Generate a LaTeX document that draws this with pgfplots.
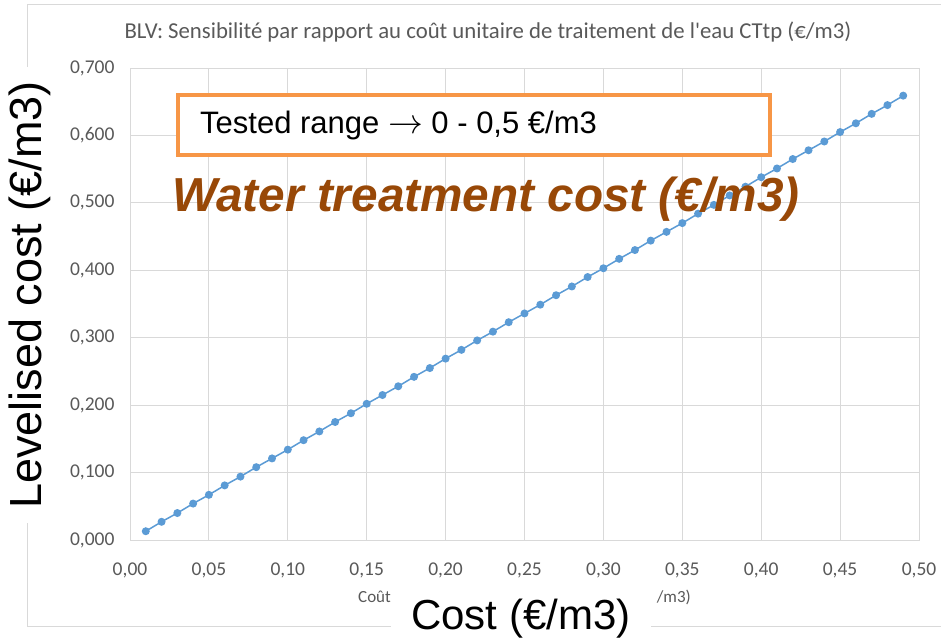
\documentclass[border=0pt]{standalone}
\usepackage{fontspec}
\setmainfont{Liberation Sans}
\newfontfamily\carlito{Carlito}
\usepackage{graphicx}
\usepackage{pgfplots}
\pgfplotsset{compat=1.18}
\definecolor{excelblue}{HTML}{5B9BD5}
\definecolor{gridgray}{HTML}{D9D9D9}
\definecolor{tickgray}{HTML}{595959}
\definecolor{boxorange}{HTML}{F79646}
\definecolor{brown}{HTML}{984807}
\pgfplotstableread{
x y
0.01 0.013
0.02 0.027
0.03 0.040
0.04 0.054
0.05 0.067
0.06 0.081
0.07 0.094
0.08 0.108
0.09 0.121
0.10 0.134
0.11 0.148
0.12 0.161
0.13 0.175
0.14 0.188
0.15 0.202
0.16 0.215
0.17 0.228
0.18 0.242
0.19 0.255
0.20 0.269
0.21 0.282
0.22 0.296
0.23 0.309
0.24 0.323
0.25 0.336
0.26 0.349
0.27 0.363
0.28 0.376
0.29 0.390
0.30 0.403
0.31 0.417
0.32 0.430
0.33 0.444
0.34 0.457
0.35 0.470
0.36 0.484
0.37 0.497
0.38 0.511
0.39 0.524
0.40 0.538
0.41 0.551
0.42 0.565
0.43 0.578
0.44 0.591
0.45 0.605
0.46 0.618
0.47 0.632
0.48 0.645
0.49 0.659
}\datatable
\begin{document}
\begin{tikzpicture}
\useasboundingbox[fill=white] (0,0) rectangle (941pt,642pt);
% Excel chart frame
\draw[gridgray, line width=1pt] (27pt,16pt) rectangle (960pt,637pt);
\begin{axis}[
  at={(130pt,102pt)}, anchor=south west,
  scale only axis, width=789pt, height=472pt,
  xmin=0, xmax=0.5, ymin=0, ymax=0.7,
  xtick={0,0.05,0.1,0.15,0.2,0.25,0.3,0.35,0.4,0.45,0.5},
  ytick={0,0.1,0.2,0.3,0.4,0.5,0.6,0.7},
  major tick length=0pt,
  grid=major,
  major grid style={gridgray, line width=1pt},
  axis line style={gridgray, line width=1pt},
  /pgf/number format/assume math mode=true,
  ticklabel style={font=\carlito\fontsize{19.5}{21}\selectfont, text=tickgray},
  xticklabel style={/pgf/number format/.cd, fixed, fixed zerofill, precision=2, use comma, /tikz/.cd, yshift=-19pt},
  yticklabel style={/pgf/number format/.cd, fixed, fixed zerofill, precision=3, use comma, /tikz/.cd, xshift=-12pt},
]
\addplot[excelblue, line width=1.5pt, mark=*, mark size=3.2pt, mark options={fill=excelblue, draw=excelblue}] table[x=x, y=y] {\datatable};
\end{axis}
% Excel title and the visible parts of its axis label
\node[text=tickgray, font=\carlito\fontsize{22.75}{26}\selectfont] at (488pt,610pt) {BLV: Sensibilité par rapport au coût unitaire de traitement de l'eau CTtp (€/m3)};
\node[anchor=west, inner sep=0pt, text=tickgray, font=\carlito\fontsize{17}{20}\selectfont] at (358pt,45pt) {Coût};
\node[anchor=east, inner sep=0pt, text=tickgray, font=\carlito\fontsize{17}{20}\selectfont] at (691pt,45pt) {/m3)};
% Overlays
\node[fill=white, inner xsep=20pt, inner ysep=3pt, font=\fontsize{42}{46}\selectfont] at (521pt,23pt) {Cost (€/m3)};
\node[fill=white, rotate=90, inner xsep=14pt, inner ysep=1pt, font=\fontsize{45}{50}\selectfont] at (30pt,347pt) {Levelised cost (€/m3)};
\draw[boxorange, line width=4pt, fill=white] (178pt,547pt) rectangle (770pt,487pt);
\node[anchor=west, inner sep=0pt, font=\fontsize{31}{34}\selectfont] at (200pt,517pt) {Tested range \scalebox{1.4}{$\rightarrow$} 0 - 0,5 €/m3};
\node[anchor=base west, inner sep=0pt, text=brown, font=\fontsize{47.7}{52}\selectfont\bfseries\itshape] at (172pt,430pt) {Water treatment cost (€/m3)};
\end{tikzpicture}
\end{document}
